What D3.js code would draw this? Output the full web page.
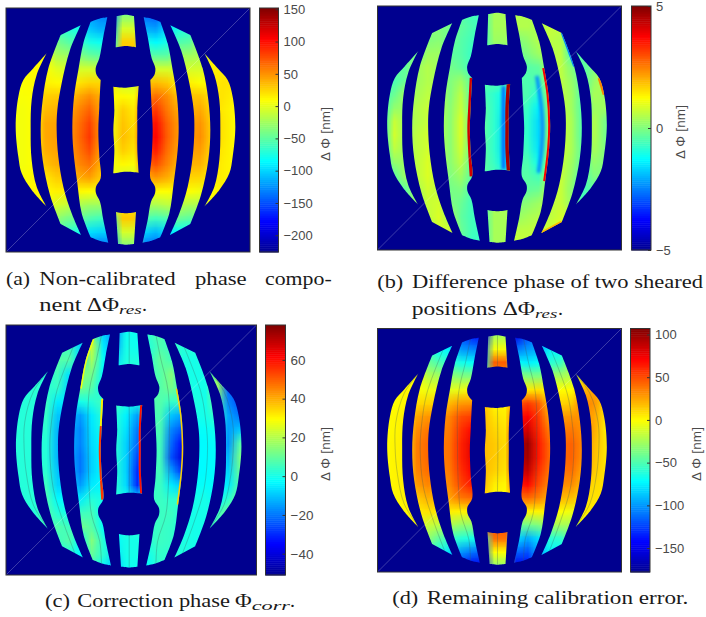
<!DOCTYPE html>
<html>
<head>
<meta charset="utf-8">
<script src="https://cdn.jsdelivr.net/npm/d3@7"></script>
<style>
body { margin: 0; background: #fff; }
.cap { font-family: "Liberation Serif", serif; font-size: 18px; fill: #1a1a1a; }
.sub { font-family: "Liberation Serif", serif; font-size: 13px; font-style: italic; fill: #1a1a1a; }
.tick text { font-family: "Liberation Sans", sans-serif; fill: #4a4a4a; }
.cblabel { font-family: "Liberation Sans", sans-serif; font-size: 13.5px; fill: #4a4a4a; }
</style>
</head>
<body>
<svg id="fig" width="706" height="617"></svg>
<script>
// mask outline in detector pixels (0-732), left half. right half is mirrored
const maskSize = 732, mirrorAxis = 717;
const band1 = [[122,136],[82,181],[52,216],[37,266],[29,356],[37,446],[47,496],[77,546],[122,596],[92,536],[77,456],[74,366],[77,276],[92,201]];
const band2 = [[164,81],[224,52],[192,126],[167,226],[154,306],[152,366],[157,446],[172,536],[197,616],[225,681],[164,648],[132,561],[110,456],[104,366],[110,276],[127,181]];
const band3 = [[254,41],[280,32],[304,28],[292,86],[280,151],[269,181],[272,201],[284,216],[280,296],[277,366],[280,446],[284,511],[270,536],[270,556],[282,581],[292,636],[307,704],[280,698],[254,688],[227,616],[214,526],[202,426],[199,356],[204,266],[217,186],[232,106]];
const centerTop = [[332,24],[360,20],[384,24],[390,118],[360,114],[329,118]];
const centerMid = [[322,236],[360,239],[398,234],[394,306],[394,366],[394,426],[398,494],[360,491],[322,496],[325,426],[322,366],[325,306]];
const centerBot = [[330,612],[360,616],[390,612],[384,708],[360,710],[336,708]];

// stitching seams visible in (c) and (d)
const seam1 = [[122,137],[80,195],[55,283],[53,361],[60,439],[80,527],[122,595]];
const seam2 = [[197,63],[148,195],[133,283],[128,361],[138,478],[167,576],[201,668]];
const seam3 = [[279,29],[265,98],[243,195],[240,361],[243,478],[250,556],[274,634],[279,703]];
const seamTop = [[360,20],[360,114]], seamMid = [[360,239],[361,366],[360,491]], seamBot = [[360,616],[360,710]];

// rows top to bottom, 22 columns
const gridA = [
[10,10,-40,-60,-70,-80,-100,-120,-130,-135,-35,-35,-140,-145,-110,-90,-70,-50,-30,10,10,10],
[10,10,-20,-40,-60,-70,-75,-105,-115,-115,-5,-5,-115,-120,-95,-75,-70,-40,-20,10,10,10],
[10,10,0,-20,-40,-50,-60,-75,-80,-80,28,28,-75,-85,-75,-55,-50,-20,0,15,15,15],
[10,10,10,10,-20,-25,-35,-45,-50,-50,30,30,-50,-50,-50,-25,-25,-20,15,15,15,15],
[10,10,12,10,0,-5,-5,-5,-10,-10,10,10,0,-5,-5,-10,-5,-5,15,15,15,15],
[10,10,12,15,12,12,20,25,25,20,-8,-8,30,35,30,15,15,10,15,20,20,20],
[10,8,10,28,30,30,42,52,40,10,12,8,50,65,52,32,32,32,20,20,15,15],
[8,6,10,35,38,40,55,68,45,5,28,18,70,85,60,42,38,42,25,18,12,10],
[6,6,10,42,44,45,62,80,50,5,32,22,85,100,68,48,46,50,28,20,12,10],
[6,6,10,42,46,45,64,84,50,5,34,25,88,105,70,48,48,52,28,20,12,10],
[6,6,10,40,44,44,60,76,46,5,28,20,78,95,64,45,45,46,26,18,12,10],
[6,6,10,32,40,40,54,62,40,5,12,8,62,75,56,38,38,38,22,16,12,10],
[8,8,12,18,28,30,40,45,30,5,-8,-8,40,48,40,28,26,25,18,16,12,10],
[10,10,12,12,15,15,12,10,5,5,5,5,10,10,10,12,10,5,10,15,15,15],
[10,10,10,10,-5,-10,-20,-25,-25,20,20,20,-20,-20,-15,-15,-20,-20,12,15,15,15],
[10,10,10,-10,-30,-40,-45,-55,-60,-60,30,30,-55,-60,-55,-45,-50,-40,0,10,10,10],
[10,10,-10,-30,-50,-65,-75,-95,-100,-100,-5,-5,-100,-110,-95,-85,-85,-60,-20,10,10,10],
[10,10,-30,-50,-70,-90,-110,-125,-135,-135,-35,-35,-135,-140,-115,-100,-85,-60,-30,10,10,10]];

const gridB = [
[.3,.3,.3,.3,.2,.1,-.3,-.4,-.6,-.6,.4,.4,.5,.5,.6,.6,.4,.3,.2,.2,.2,.2],
[.3,.3,.3,.3,.1,0,-.1,-.3,-.5,-.7,.4,.4,.5,.5,.4,.7,.6,.3,.2,.2,.2,.2],
[.3,.3,.2,.1,0,.1,-.2,-.4,-.6,-.7,.3,.3,0,.2,.5,.6,.5,-.6,.2,.2,.2,.2],
[0,0,-.2,-.2,.3,.3,-.3,-.4,-.7,-.7,0,0,-.2,0,.3,.5,.6,-.6,-.3,.2,.2,.2],
[-.3,-.3,-.3,.3,.5,.3,-.1,-.3,-.6,-.6,0,0,-.3,-.4,-.3,.5,.6,0,-.4,0,.2,.2],
[-.5,-.5,-.2,.3,.5,.4,0,.3,-.4,-.5,-.4,-.4,-.4,-.5,-.5,.3,.6,.2,-.4,.2,.8,.8],
[-.6,-.2,.3,.4,.6,.5,0,.6,-.5,-.5,-.8,-1.2,-.4,-.5,-.9,.3,.6,.3,-.5,.4,.3,.3],
[-.6,.2,.3,.5,.7,.5,.1,.7,-.4,-.3,-.8,-1.4,-.5,-.7,-1.4,.3,.7,.3,-.5,.3,.3,.3],
[-.6,.7,.3,.5,.7,.5,.1,.9,-.4,-.3,-.8,-1.6,-.5,-.8,-1.6,.3,.8,.4,-.5,.5,-.1,-.1],
[-.6,.8,.3,.6,.8,.5,.1,.9,-.4,-.3,-.8,-1.6,-.5,-.8,-1.6,.3,.8,.4,-.5,.5,-.1,-.1],
[-.6,.6,.3,.6,.8,.5,.1,.8,-.4,-.3,-.8,-1.6,-.5,-.7,-1.5,.3,.8,.4,-.4,.4,0,0],
[-.6,.2,.3,.6,.9,.5,.1,.6,-.4,-.3,-.7,-1.4,-.5,-.5,-1.1,.3,.7,.3,-.4,.2,0,0],
[-.6,-.3,.3,.6,.9,.6,0,.3,-.4,-.4,-.5,-.8,-.4,-.4,-.6,.4,.7,.2,-.5,0,0,0],
[-.4,-.4,-.3,.4,.8,.6,-.1,0,-.5,-.5,0,0,-.3,-.3,-.2,.6,.7,.1,-.6,-.3,-.3,-.3],
[-.3,-.3,-.3,.2,.7,.8,0,-.2,-.6,-.6,.4,.4,0,.1,.3,.6,.7,.2,-.6,0,0,0],
[.2,.2,.2,.2,.6,.9,.4,-.3,-.6,-.6,.4,.4,.2,.4,.5,.6,.8,.8,.2,.2,.2,.2],
[.2,.2,.2,.2,.4,.8,.8,-.2,-.6,-.7,.4,.4,.6,.6,.7,.8,1,1,.2,.2,.2,.2],
[.2,.2,.2,.2,.4,.6,.6,-.3,-.7,-.7,.4,.4,.7,.7,.8,.8,.8,.5,.2,.2,.2,.2]];

const gridC = [
[2,2,2,2,2,-5,-5,10,-8,-18,-1,-1,4,8,2,2,2,2,2,2,2,2],
[2,2,2,2,5,6,-8,22,-5,-15,0,-1,2,7,5,2,2,2,2,2,2,2],
[2,2,2,2,8,8,-6,18,-2,-8,1,1,3,10,6,1,0,2,2,2,2,2],
[2,2,2,2,6,-6,15,12,-3,-3,2,2,5,8,14,0,0,0,15,15,15,15],
[2,2,3,3,4,-8,12,8,-3,-3,2,2,8,8,12,5,0,0,18,-22,-22,-22],
[2,2,2,5,-5,-5,0,2,6,6,1,1,7,8,4,6,1,0,12,-18,-25,-25],
[2,2,2,4,-10,-10,-15,-5,3,3,-4,-15,6,7,-10,-15,0,0,5,-14,-20,-20],
[2,2,2,3,-12,-12,-18,-6,0,3,-6,-20,6,7,-18,-25,-2,-2,0,-15,-10,-10],
[2,2,2,2,-12,-12,-18,-7,-3,3,-8,-22,5,6,-22,-35,-3,-3,-2,-16,8,8],
[2,2,2,2,-12,-12,-20,-8,-3,3,-8,-26,5,6,-25,-40,-3,-3,-3,-12,12,12],
[2,2,2,3,-10,-10,-20,-8,-3,3,-8,-30,5,6,-15,-30,-3,-3,-3,-8,10,10],
[2,2,2,5,-8,-8,-15,-5,-3,3,-7,-30,4,5,-5,-10,-2,-2,-3,-5,8,8],
[2,2,2,7,-3,-3,-5,2,0,2,0,-5,4,5,3,5,0,0,-3,3,12,12],
[2,2,2,8,2,0,5,6,-2,-2,2,2,4,5,5,1,0,0,4,12,12,12],
[2,2,2,4,8,5,12,8,-2,-3,3,3,4,5,4,1,0,0,8,8,8,8],
[2,2,2,2,5,8,-3,14,2,-3,0,0,3,5,4,1,0,0,2,2,2,2],
[2,2,2,2,2,2,-3,10,3,-6,0,0,0,4,3,1,0,0,2,2,2,2],
[2,2,2,2,2,-5,-5,5,-3,-12,-1,-1,-3,4,2,2,2,2,2,2,2,2]];

const gridD = [
[0,0,-40,-60,-70,-80,-100,-120,-135,-145,-25,-25,-150,-120,-100,-85,-70,-50,-30,0,0,0],
[0,0,-20,-40,-55,-70,-75,-100,-105,-110,-2,-2,-110,-100,-95,-75,-70,-45,-20,0,0,0],
[0,0,0,-15,-40,-50,-58,-65,-70,-70,45,45,-70,-75,-70,-60,-55,-25,0,5,5,5],
[0,0,0,0,-20,-25,-30,-35,-35,-35,30,30,-30,-35,-35,-25,-25,-20,5,5,5,5],
[0,0,2,0,-5,-5,-8,-5,0,0,10,10,5,5,8,0,0,0,20,25,25,25],
[0,0,3,10,12,12,20,28,30,20,2,2,45,55,45,15,12,15,35,30,10,10],
[0,2,5,25,30,28,35,50,55,20,8,5,65,72,55,25,28,30,30,25,8,8],
[0,2,5,32,38,32,38,58,70,20,12,8,72,85,60,35,36,38,30,24,6,6],
[0,3,5,36,42,35,40,62,78,20,15,10,85,100,65,42,42,44,32,20,8,8],
[0,3,5,36,42,35,40,62,78,20,15,10,85,98,65,42,42,44,30,18,8,8],
[0,3,5,34,40,32,38,58,72,20,13,8,78,88,58,38,38,40,24,15,8,8],
[0,3,5,28,34,28,34,52,65,20,5,2,62,70,50,32,32,32,18,10,8,8],
[0,2,4,14,22,20,26,38,42,15,0,0,38,42,35,22,20,18,10,8,8,8],
[0,0,2,5,8,6,5,3,5,5,5,5,5,3,3,5,0,-5,5,5,5,5],
[0,0,0,0,-15,-18,-22,-30,-30,50,50,50,-40,-40,-35,-25,-25,-25,0,2,2,2],
[0,0,0,-10,-30,-45,-55,-60,-65,-65,40,40,-80,-95,-80,-60,-58,-40,-5,0,0,0],
[0,0,-10,-30,-50,-65,-80,-100,-110,-115,0,0,-115,-120,-95,-75,-70,-50,-20,0,0,0],
[0,0,-30,-50,-70,-90,-110,-130,-145,-150,-30,-30,-150,-140,-110,-90,-75,-55,-30,0,0,0]];

// narrow features along band edges, too thin for the grid: [value, points]
const edgeBand3 = [[284,216],[280,296],[277,366],[280,446],[284,511]];
const edgeBand3Low = [[280,296],[277,366],[280,446],[284,511]];
const edgeCenter = [[398,234],[394,306],[394,366],[394,426],[398,494]];
const edgeBand5 = [[500,186],[513,266],[518,356],[515,426],[503,526]];
const streaksB = [[4.2,edgeBand3],[4.6,edgeCenter],[3.8,edgeBand5],[2.5,[[665,216],[680,266]]],[2,[[553,648],[492,681]]],[-2.5,[[553,81],[590,181]]]];
const streaksC = [[32,[[284,216],[280,296]]],[55,edgeBand3Low],[60,edgeCenter],[36,edgeBand5],[28,[[254,41],[232,106],[217,186]]]];
const widthsB = [5,7,4,3,3,2], widthsC = [4,4,4,3,3];

// softer stripes inside the bands of (b)
const stripeCenterB = [[378,240],[378,366],[378,490]];
const stripeBand5B = [[478,210],[491,300],[495,370],[491,440],[483,500]];
const stripesB = [[-2.8,stripeCenterB],[-2.4,stripeBand5B]];

const domainA = [-226,152], domainB = [-5,5], domainC = [-51,78], domainD = [-178,107];
const ticksA = [-200,-150,-100,-50,0,50,100,150], ticksB = [-5,0,5], ticksC = [-40,-20,0,20,40,60], ticksD = [-150,-100,-50,0,50,100];

const jetStops = [0,.125,.375,.625,.875,1];
const jetColors = ["#00008f","#0000ff","#00ffff","#ffff00","#ff0000","#800000"];
const jet = d3.scaleLinear().domain(jetStops).range(jetColors).clamp(true);

const svg = d3.select("#fig");
const defs = svg.append("defs");
defs.append("filter").attr("id","soft").append("feGaussianBlur").attr("stdDeviation",1.4);
const polyLine = d3.line().curve(d3.curveCatmullRomClosed.alpha(.5));

const allBands = [band1,band2,band3,centerTop,centerMid,centerBot]
    .concat([band1,band2,band3].map(b => b.map(p => [mirrorAxis-p[0],p[1]])));
const allSeams = [seam1,seam2,seam3,seamTop,seamMid,seamBot]
    .concat([seam1,seam2,seam3].map(b => b.map(p => [mirrorAxis-p[0],p[1]])));

// doubling a point keeps the corner sharp in the closed spline
function keepCorners(pts){
    const out = [];
    pts.forEach((p,i) => {
        const a = pts[(i+pts.length-1)%pts.length], b = pts[(i+1)%pts.length];
        const turn = Math.abs(Math.atan2(p[1]-a[1],p[0]-a[0])-Math.atan2(b[1]-p[1],b[0]-p[0]));
        const ang = Math.min(turn,2*Math.PI-turn);
        out.push(p);
        if(ang > .6) out.push(p);
    });
    return out;
}

function drawPanel(id, box, bar, grid, domain, ticks, fontSize, streaks, widths, stripes, showSeams){
    const x = d3.scaleLinear().domain([0,maskSize]).range([box.x0,box.x1]);
    const y = d3.scaleLinear().domain([0,maskSize]).range([box.y0,box.y1]);
    const t = d3.scaleLinear().domain(domain).range([0,1]);
    const color = v => jet(t(v));

    // background is the lowest colour
    svg.append("rect").attr("x",x(0)).attr("y",y(0))
        .attr("width",x(maskSize)-x(0)).attr("height",y(maskSize)-y(0))
        .attr("fill",color(domain[0]));

    // grid goes in a tiny canvas, the browser smooths it when scaled up
    const cv = document.createElement("canvas");
    cv.width = grid[0].length; cv.height = grid.length;
    const ctx = cv.getContext("2d");
    grid.forEach((row,r) => row.forEach((v,c) => {
        ctx.fillStyle = color(v);
        ctx.fillRect(c,r,1,1);
    }));

    const pathFor = pts => polyLine(keepCorners(pts).map(p => [x(p[0]),y(p[1])]));
    defs.append("clipPath").attr("id","clip"+id)
        .selectAll("path").data(allBands).join("path").attr("d",pathFor);

    const g = svg.append("g").attr("clip-path","url(#clip"+id+")");
    g.append("image").attr("href",cv.toDataURL())
        .attr("x",x(0)).attr("y",y(0))
        .attr("width",x(maskSize)-x(0)).attr("height",y(maskSize)-y(0))
        .attr("preserveAspectRatio","none");

    const open = d3.line().x(p => x(p[0])).y(p => y(p[1])).curve(d3.curveCatmullRom);
    g.append("g").attr("filter","url(#soft)").selectAll("path").data(stripes).join("path")
        .attr("fill","none").attr("d",d => open(d[1]))
        .attr("stroke",d => color(d[0])).attr("stroke-width",3.5);
    g.append("g").selectAll("path").data(streaks).join("path")
        .attr("fill","none").attr("d",d => open(d[1]))
        .attr("stroke",d => color(d[0]))
        .attr("stroke-width",(d,i) => widths[i]);

    if(showSeams){
        g.append("g").selectAll("path").data(allSeams).join("path")
            .attr("fill","none").attr("d",open)
            .attr("stroke","#3c5a5a").attr("stroke-opacity",.5).attr("stroke-width",.6);
    }

    // thin diagonal in every map
    svg.append("line").attr("x1",x(0)).attr("y1",y(maskSize)).attr("x2",x(maskSize)).attr("y2",y(0))
        .attr("stroke","#fff").attr("stroke-opacity",.4).attr("stroke-width",.6);
    svg.append("rect").attr("x",x(0)).attr("y",y(0))
        .attr("width",x(maskSize)-x(0)).attr("height",y(maskSize)-y(0))
        .attr("fill","none").attr("stroke","#333").attr("stroke-width",1);

    // colorbar
    const cy = d3.scaleLinear().domain(domain).range([box.y1,box.y0]);
    const levels = d3.range(0,128).map(i => domain[0]+(domain[1]-domain[0])*i/128);
    const step = (domain[1]-domain[0])/128;
    svg.append("g").selectAll("rect").data(levels).join("rect")
        .attr("x",bar.x0).attr("width",bar.x1-bar.x0)
        .attr("y",d => cy(d+step)).attr("height",d => cy(d)-cy(d+step)+.5)
        .attr("fill",d => color(d+step/2));
    svg.append("rect").attr("x",bar.x0).attr("y",box.y0)
        .attr("width",bar.x1-bar.x0).attr("height",box.y1-box.y0)
        .attr("fill","none").attr("stroke","#333").attr("stroke-width",1);

    const axis = d3.axisRight(cy).tickValues(ticks).tickSizeInner(-3).tickSizeOuter(0).tickPadding(5);
    const ag = svg.append("g").attr("transform","translate("+bar.x1+",0)").call(axis);
    ag.select(".domain").remove();
    ag.selectAll("line").attr("stroke","#333");
    ag.selectAll("text").attr("font-size",fontSize).attr("fill","#4a4a4a");

    svg.append("text").attr("class","cblabel")
        .attr("transform","translate("+bar.label+","+bar.labelY+") rotate(-90)")
        .attr("text-anchor","middle")
        .attr("textLength",54).attr("lengthAdjust","spacing")
        .text("\u0394 \u03A6 [nm]");
}

drawPanel("A",{x0:6,x1:250,y0:8,y1:252},{x0:259.5,x1:278.5,label:330,labelY:134},gridA,domainA,ticksA,13,[],[],[],false);
drawPanel("B",{x0:377.5,x1:621.5,y0:6,y1:250},{x0:631.5,x1:651,label:685,labelY:132},gridB,domainB,ticksB,13,streaksB,widthsB,stripesB,false);
drawPanel("C",{x0:6,x1:256.5,y0:325,y1:575},{x0:265.5,x1:285.5,label:330,labelY:454},gridC,domainC,ticksC,13.5,streaksC,widthsC,[],true);
drawPanel("D",{x0:377.5,x1:621.5,y0:328.5,y1:572},{x0:630.5,x1:650,label:701,labelY:454},gridD,domainD,ticksD,13,[],[],[],true);

// caption pieces: text, class, left, right, baseline
const captions = [
 ["(a)","cap",6,30,285],["Non-calibrated","cap",39.3,175.7,285],["phase","cap",195,246.7,285],["compo-","cap",265,331.7,285],
 ["nent","cap",39.3,81.7,311],["\u0394\u03A6","cap",87,119,311],["res","sub",119,141.7,314],[".","cap",142,147,311],
 ["(b)","cap",377.3,403.3,288],["Difference phase of two sheared","cap",412,703,288],
 ["positions","cap",411.7,496.7,315],["\u0394\u03A6","cap",502.7,535,315],["res","sub",535,557.3,318],[".","cap",558,563,315],
 ["(c)","cap",45,70,607],["Correction phase","cap",77.3,230,607],["\u03A6","cap",235,251.7,607],["corr","sub",251.7,290,610],[".","cap",290,295,607],
 ["(d)","cap",392.3,418.3,604],["Remaining calibration error.","cap",426.7,688.3,604]
];
svg.append("g").selectAll("text").data(captions).join("text")
    .attr("class",d => d[1]).attr("x",d => d[2]).attr("y",d => d[4])
    .attr("textLength",d => d[3]-d[2]).attr("lengthAdjust","spacingAndGlyphs")
    .text(d => d[0]);
</script>
</body>
</html>
